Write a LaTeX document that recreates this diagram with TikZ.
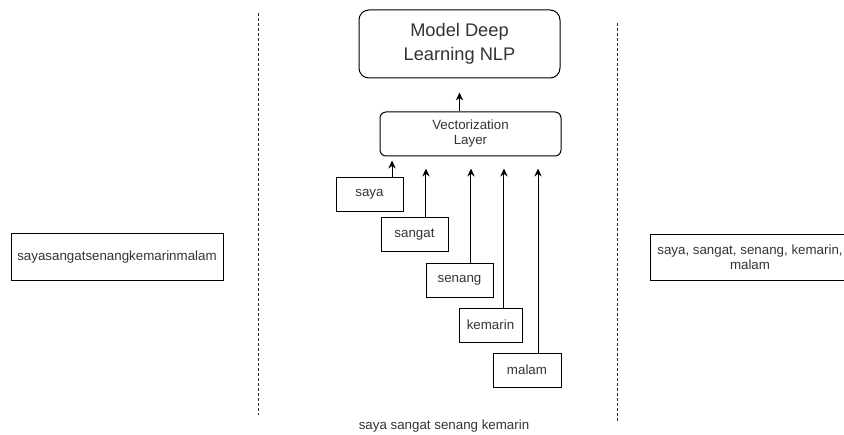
\documentclass[tikz,border=0pt]{standalone}
\usepackage{fontspec}
\setmainfont{Liberation Sans}
\usetikzlibrary{arrows.meta,calc}
\tikzset{%
  word/.style={draw,rectangle,line width=0.75pt,minimum width=#1,minimum height=25.5pt,
    inner sep=0pt,font=\fontsize{10}{12}\selectfont,text=black!80},
  word/.default=50.25pt,
  layer/.style={draw,rounded corners=#1,line width=0.75pt,inner sep=0pt,align=center,text=black!80},
  arr/.style={->,>={Stealth[length=6pt,width=5.5pt]},line width=0.75pt},
  divider/.style={line width=0.75pt,dash pattern=on 2.25pt off 1.5pt,black!85}
}

\begin{document}
\begin{tikzpicture}[x=0.75pt,y=-0.75pt]
    \useasboundingbox (0,0) rectangle (844,435);
    \clip (0,0) rectangle (844,435);
    %
    \draw[divider] (258,13) -- (258,415);
    \draw[divider] (617,23) -- (617,423);
    %
    \node[word=159pt,minimum height=34.5pt] (raw) at (117,257) {sayasangatsenangkemarinmalam};
    \node[word=150pt,minimum height=33.75pt,align=center,font=\fontsize{10}{11.25}\selectfont]
      (tokens) at (750,257.5) {saya, sangat, senang, kemarin,\\malam};
    %
    \node[layer=7.5pt,minimum width=150.75pt,minimum height=51pt,font=\fontsize{13.7}{18}\selectfont]
      (model) at (459.5,44) {Model Deep\\Learning NLP};
    \node[layer=4.5pt,minimum width=135.75pt,minimum height=33pt,font=\fontsize{10}{11.25}\selectfont]
      (vec) at (470.5,134) {Vectorization\\Layer};
    \draw[arr,shorten >=10.5pt] (model.south |- vec.north) -- (model.south);
    %
    \node[word] (saya) at (369.5,194.5) {saya};
    \node[word] (sangat) at (414.5,235) {sangat};
    \node[word] (senang) at (459.5,280) {senang};
    \node[word=47.25pt] (kemarin) at (490.5,325) {kemarin};
    \node[word=51pt] (malam) at (527,370) {malam};
    %
    \draw[arr,shorten >=3pt] ([xshift=16.9pt]saya.north) -- ([xshift=16.9pt]saya.north |- vec.south);
    \foreach \w/\dx in {sangat/8.6pt, senang/8.6pt, kemarin/10.1pt, malam/8.25pt}
      \draw[arr,shorten >=9pt] ([xshift=\dx]\w.north) -- ([xshift=\dx]\w.north |- vec.south);
    %
    \node[font=\fontsize{10}{12}\selectfont,text=black!80] (caption) at (444,426) {saya sangat senang kemarin};
\end{tikzpicture}
\end{document}
